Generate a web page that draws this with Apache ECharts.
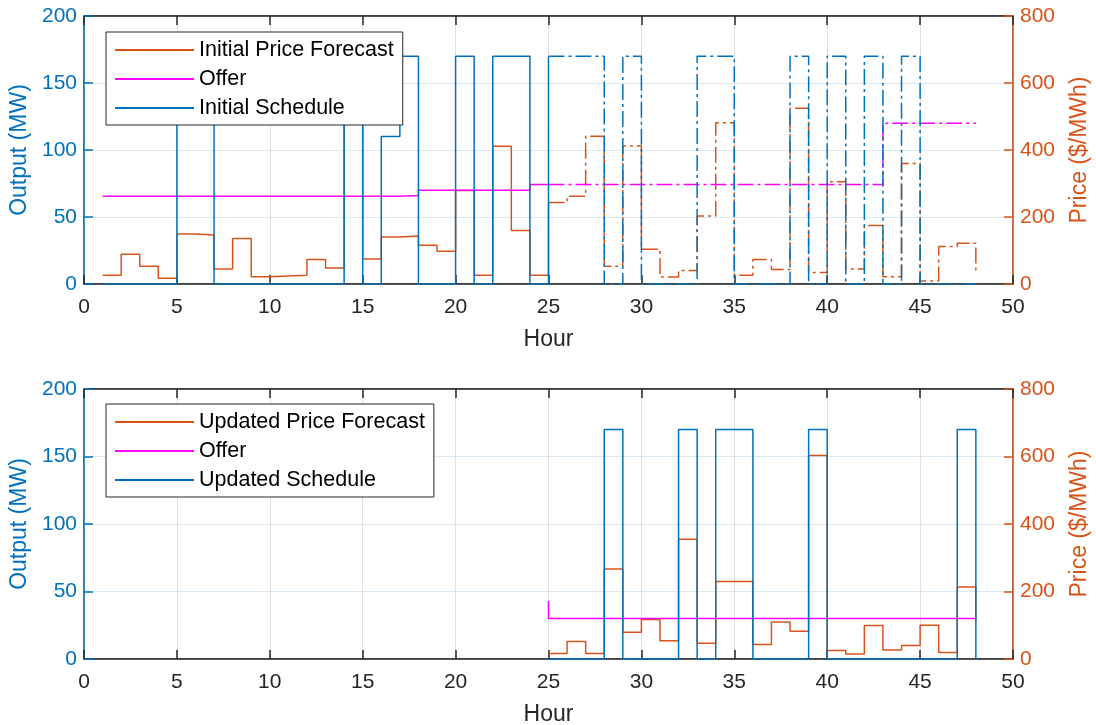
<!DOCTYPE html>
<html>
<head>
<meta charset="utf-8">
<script src="https://cdn.jsdelivr.net/npm/echarts@6/dist/echarts.min.js"></script>
<style>
html,body{margin:0;padding:0;background:#fff;}
#chart{width:1096px;height:725px;}
</style>
</head>
<body>
<div id="chart"></div>
<script>
// ---------- data ----------
const hours = [1,2,3,4,5,6,7,8,9,10,11,12,13,14,15,16,17,18,19,20,21,22,23,24,
               25,26,27,28,29,30,31,32,33,34,35,36,37,38,39,40,41,42,43,44,45,46,47,48];
const initialPrice = [26,89,53,17,149,146,45,136,22,24,26,73,48,560,75,140,143,116,98,279,26,411,160,26,
                      243,262,441,53,412,104,21,40,203,481,26,73,43,525,34,305,45,175,22,360,9,112,122,36];
const initialOffer = [262,262,262,262,262,262,262,262,262,262,262,262,262,262,262,262,264,280,280,280,280,280,280,297,
                      297,297,297,297,297,297,297,297,297,297,297,297,297,297,297,297,297,297,480,480,480,480,480,480];
const initialSchedule = [0,0,0,0,170,170,0,0,0,0,0,0,0,170,0,110,170,0,0,170,0,170,170,0,
                         170,170,170,0,170,0,0,0,170,170,0,0,0,170,0,170,0,170,0,170,0,0,0,0];

const updHours = [25,26,27,28,29,30,31,32,33,34,35,36,37,38,39,40,41,42,43,44,45,46,47,48];
const updatedPrice = [16,52,16,267,79,117,54,355,47,230,230,43,110,82,603,25,15,99,27,40,100,19,213,112];
const updatedSchedule = [0,0,0,170,0,0,0,170,0,170,170,0,0,0,170,0,0,0,0,0,0,0,170,0];
const offerHours = [25,25,26,27,28,29,30,31,32,33,34,35,36,37,38,39,40,41,42,43,44,45,46,47,48];
const updatedOffer = [172,120,120,120,120,120,120,120,120,120,120,120,120,120,120,120,120,120,120,120,120,120,120,120,120];

const xTicks = [0,5,10,15,20,25,30,35,40,45,50];

// ---------- styles ----------
const BLUE = '#0072BD', ORANGE = '#D95319', MAGENTA = '#FF00FF', DARK = '#262626';
const FONT = 'Liberation Sans, Arial, Helvetica, sans-serif';
const DASHDOT = [16,4,3,4];
const LW = 1.5;

function pairs(xs, ys, a, b) {
  const out = [];
  for (let i = a; i <= b; i++) out.push([xs[i], ys[i]]);
  return out;
}

function lineSeries(name, data, color, xi, yi, dashed) {
  return {
    name: name, type: 'line', step: 'end', data: data,
    xAxisIndex: xi, yAxisIndex: yi, symbol: 'none', showSymbol: false,
    lineStyle: {color: color, width: LW, type: dashed ? DASHDOT : 'solid'},
    itemStyle: {color: color},
    emphasis: {disabled: true}, silent: true
  };
}

const grids = [
  {left: 84, top: 16, width: 929, height: 268},
  {left: 84, top: 389, width: 929, height: 270}
];

function xAxisBottom(gi) {
  return {
    type: 'value', gridIndex: gi, min: 0, max: 50, interval: 5, position: 'bottom',
    name: 'Hour', nameLocation: 'middle', nameGap: 44,
    nameTextStyle: {color: DARK, fontSize: 23, fontFamily: FONT},
    axisLine: {show: true, onZero: false, lineStyle: {color: DARK, width: 1.5}},
    axisTick: {show: true, inside: true, length: 9, lineStyle: {color: DARK, width: 1.5}},
    axisLabel: {color: DARK, fontSize: 21, fontFamily: FONT, margin: 13,
      formatter: v => (xTicks.indexOf(v) >= 0 ? String(v) : '')},
    splitLine: {show: true, lineStyle: {color: '#dfdfdf', width: 1}}
  };
}
function xAxisTop(gi) {
  return {
    type: 'value', gridIndex: gi, min: 0, max: 50, interval: 5, position: 'top',
    axisLine: {show: true, onZero: false, lineStyle: {color: DARK, width: 1.5}},
    axisTick: {show: true, inside: true, length: 9, lineStyle: {color: DARK, width: 1.5}},
    axisLabel: {show: false}, splitLine: {show: false}
  };
}
function yLeft(gi) {
  return {
    type: 'value', gridIndex: gi, min: 0, max: 200, interval: 50, position: 'left',
    name: 'Output (MW)', nameLocation: 'middle', nameGap: 43,
    nameTextStyle: {color: BLUE, fontSize: 23, fontFamily: FONT},
    axisLine: {show: true, onZero: false, lineStyle: {color: BLUE, width: 1.5}},
    axisTick: {show: true, inside: true, length: 9, lineStyle: {color: BLUE, width: 1.5}},
    axisLabel: {color: BLUE, fontSize: 21, fontFamily: FONT, margin: 7},
    splitLine: {show: true, lineStyle: {color: '#d9eaf5', width: 1}}
  };
}
function yRight(gi) {
  return {
    type: 'value', gridIndex: gi, min: 0, max: 800, interval: 200, position: 'right',
    name: 'Price ($/MWh)', nameLocation: 'middle', nameGap: 55,
    nameTextStyle: {color: ORANGE, fontSize: 23, fontFamily: FONT},
    axisLine: {show: true, onZero: false, lineStyle: {color: ORANGE, width: 1.5}},
    axisTick: {show: true, inside: true, length: 9, lineStyle: {color: ORANGE, width: 1.5}},
    axisLabel: {color: ORANGE, fontSize: 21, fontFamily: FONT, margin: 7},
    splitLine: {show: false}
  };
}

function legend(top, names) {
  return {
    data: names, orient: 'vertical', left: 106, top: top,
    backgroundColor: '#fff', borderColor: DARK, borderWidth: 1, borderRadius: 0,
    padding: [7, 9, 6, 8], itemGap: 7, itemWidth: 79, itemHeight: 20,
    itemStyle: {opacity: 0},
    textStyle: {color: '#000', fontSize: 21.5, fontFamily: FONT},
    selectedMode: false
  };
}

// xAxis indices: 0 = top grid bottom axis, 1 = bottom grid bottom axis, 2/3 = top border axes
// yAxis indices: 0/1 = top grid left/right, 2/3 = bottom grid left/right
const series = [
  // top plot
  lineSeries('Initial Price Forecast', pairs(hours, initialPrice, 0, 24), ORANGE, 0, 1, false),
  lineSeries('Initial Price Forecast (cont.)', pairs(hours, initialPrice, 24, 47), ORANGE, 0, 1, true),
  lineSeries('Offer', pairs(hours, initialOffer, 0, 24), MAGENTA, 0, 1, false),
  lineSeries('Offer (cont.)', pairs(hours, initialOffer, 24, 47), MAGENTA, 0, 1, true),
  lineSeries('Initial Schedule', pairs(hours, initialSchedule, 0, 24), BLUE, 0, 0, false),
  lineSeries('Initial Schedule (cont.)', pairs(hours, initialSchedule, 24, 47), BLUE, 0, 0, true),
  // bottom plot
  lineSeries('Updated Price Forecast', pairs(updHours, updatedPrice, 0, updHours.length - 1), ORANGE, 1, 3, false),
  lineSeries('Offer', pairs(offerHours, updatedOffer, 0, offerHours.length - 1), MAGENTA, 1, 3, false),
  lineSeries('Updated Schedule', pairs(updHours, updatedSchedule, 0, updHours.length - 1), BLUE, 1, 2, false)
];

const option = {
  animation: false,
  backgroundColor: '#fff',
  grid: grids.map(g => Object.assign({show: true, borderColor: DARK, borderWidth: 1,
    backgroundColor: 'transparent', containLabel: false, outerBoundsMode: 'none'}, g)),
  xAxis: [xAxisBottom(0), xAxisBottom(1), xAxisTop(0), xAxisTop(1)],
  yAxis: [yLeft(0), yRight(0), yLeft(1), yRight(1)],
  legend: [
    legend(32, ['Initial Price Forecast', 'Offer', 'Initial Schedule']),
    legend(404, ['Updated Price Forecast', 'Offer', 'Updated Schedule'])
  ],
  series: series
};

const chart = echarts.init(document.getElementById('chart'), null, {renderer: 'canvas'});
chart.setOption(option);
</script>
</body>
</html>
